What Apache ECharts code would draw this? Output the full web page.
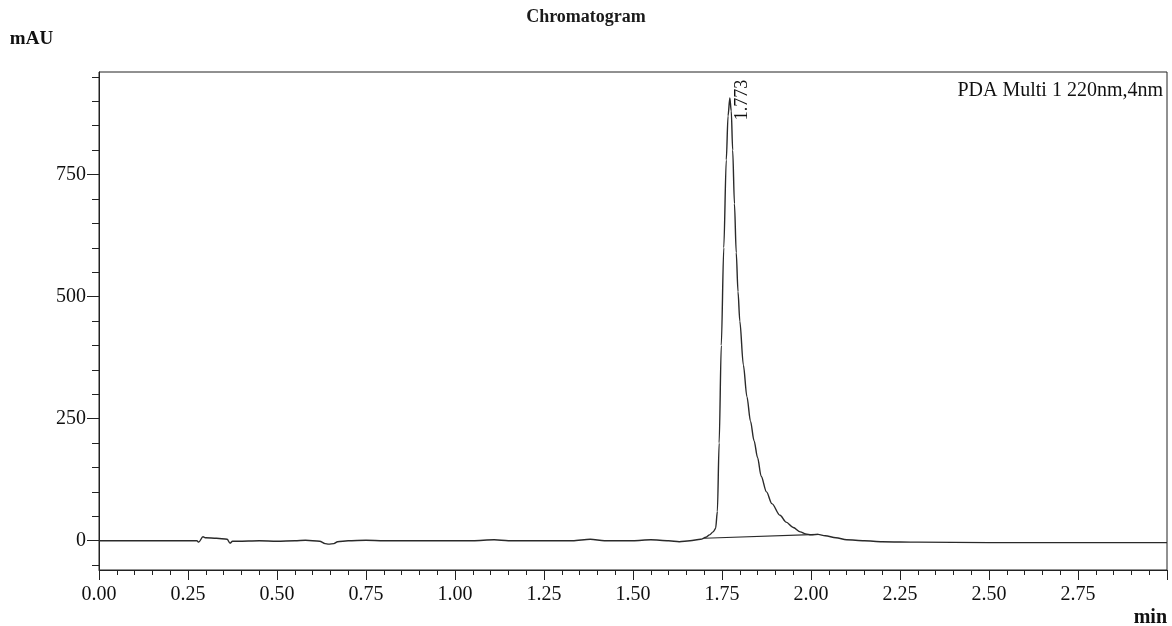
<!DOCTYPE html>
<html>
<head>
<meta charset="utf-8">
<script src="https://cdn.jsdelivr.net/npm/echarts@6/dist/echarts.min.js"></script>
<style>
html,body{margin:0;padding:0;background:#fff;}
#chart{width:1172px;height:626px;}
</style>
</head>
<body>
<div id="chart"></div>
<script>
// Retention time (min)
const times = [
  0.00, 0.10, 0.20, 0.26, 0.275, 0.280, 0.292, 0.30, 0.33, 0.36, 0.368, 0.375, 0.39,
  0.45, 0.50, 0.55, 0.58, 0.62, 0.635, 0.645, 0.66, 0.67, 0.70, 0.75, 0.80, 0.90,
  1.00, 1.05, 1.11, 1.15, 1.25, 1.33, 1.38, 1.42, 1.50, 1.55, 1.60, 1.63, 1.66,
  1.69, 1.705, 1.715, 1.725, 1.732, 1.737, 1.742, 1.748, 1.755, 1.762, 1.767,
  1.772, 1.776, 1.780, 1.785, 1.790, 1.795, 1.800, 1.810, 1.820, 1.830, 1.840,
  1.850, 1.860, 1.875, 1.890, 1.913, 1.930, 1.950, 1.970, 1.985, 2.000, 2.020,
  2.040, 2.070, 2.100, 2.150, 2.200, 2.300, 2.500, 2.800, 3.000
];
// Absorbance (mAU)
const absorbance = [
  0, 0, 0, 0, 0, -3, 8, 6, 5, 3, -5, -1, -1,
  0, -1, 0, 1, -1, -6, -7, -6, -2, 0, 1, 0, 0,
  0, 0, 2, 0, 0, 0, 3, 0, 0, 2, 0, -2, 0,
  3, 7, 12, 18, 25, 60, 200, 400, 600, 780, 870,
  907, 880, 800, 690, 590, 510, 450, 360, 295, 245, 205,
  170, 132, 100, 76, 52, 38, 27, 18, 14, 12, 13,
  10, 6, 2, 0, -2, -3, -4, -4, -4
];
// Integration baseline of the peak
const baselineTimes = [1.700, 2.020];
const baselineValues = [5, 13];
// Peak annotation
const peakTime = 1.772;
const peakHeight = 907;
const peakLabel = '1.773';
// Axis ticks
const xLabels = [0.00, 0.25, 0.50, 0.75, 1.00, 1.25, 1.50, 1.75, 2.00, 2.25, 2.50, 2.75];
const yLabels = [0, 250, 500, 750];
const yMinorTicks = [-50, 0, 50, 100, 150, 200, 250, 300, 350, 400, 450, 500, 550, 600, 650, 700, 750, 800, 850, 900, 950];

const signal = times.map((t, i) => [t, absorbance[i]]);
const baseline = baselineTimes.map((t, i) => [t, baselineValues[i]]);

const FONT = '"Liberation Serif", "DejaVu Serif", serif';
const chart = echarts.init(document.getElementById('chart'), null, {renderer: 'canvas'});
chart.setOption({
  animation: false,
  backgroundColor: '#ffffff',
  title: [
    {text: 'Chromatogram', left: 'center', top: 3,
     textStyle: {fontFamily: FONT, fontSize: 18, fontWeight: 'bold', color: '#1a1a1a'}},
    {text: 'PDA Multi 1 220nm,4nm', right: 4, top: 76,
     textStyle: {fontFamily: FONT, fontSize: 20, fontWeight: 'normal', color: '#111'}}
  ],
  grid: {left: 99, right: 5, top: 72, bottom: 56, containLabel: false, outerBoundsMode: 'none',
         show: true, borderColor: '#222', borderWidth: 1, backgroundColor: 'transparent'},
  xAxis: {
    type: 'value', min: 0, max: 3.0, interval: 0.25,
    name: 'min', nameLocation: 'end', nameGap: 0,
    nameTextStyle: {fontFamily: FONT, fontSize: 20, fontWeight: 'bold', color: '#111', align: 'right', verticalAlign: 'top', padding: [38, 0, 0, 0]},
    axisLine: {show: true, onZero: false, lineStyle: {color: '#222', width: 1}},
    axisTick: {show: true, inside: false, length: 10, lineStyle: {color: '#222'}},
    minorTick: {show: true, splitNumber: 5, length: 5, lineStyle: {color: '#222'}},
    splitLine: {show: false},
    axisLabel: {
      fontFamily: FONT, fontSize: 20, color: '#111', margin: 15,
      customValues: xLabels,
      formatter: v => v.toFixed(2)
    }
  },
  yAxis: [
    {
      type: 'value', min: -60, max: 960,
      name: 'mAU', nameLocation: 'end', nameGap: 23,
      nameTextStyle: {fontFamily: FONT, fontSize: 19, fontWeight: 'bold', color: '#111', align: 'center', padding: [0, 135, 0, 0]},
      axisLine: {show: true, onZero: false, lineStyle: {color: '#222', width: 1}},
      axisTick: {show: true, length: 12, customValues: yLabels, lineStyle: {color: '#222'}},
      splitLine: {show: false},
      axisLabel: {fontFamily: FONT, fontSize: 20, color: '#111', margin: 13, customValues: yLabels}
    },
    {
      type: 'value', min: -60, max: 960, position: 'left',
      axisLine: {show: false},
      axisTick: {show: true, length: 7, customValues: yMinorTicks, lineStyle: {color: '#222'}},
      axisLabel: {show: false},
      splitLine: {show: false}
    }
  ],
  series: [
    {
      type: 'line', data: signal, showSymbol: false, smooth: 0.3, smoothMonotone: 'x',
      lineStyle: {color: '#2a2a2a', width: 1.4},
      markPoint: {
        symbol: 'circle', symbolSize: 0,
        data: [{coord: [peakTime, peakHeight], value: peakLabel}],
        label: {show: true, formatter: peakLabel, rotate: 90, position: 'inside',
                align: 'center', verticalAlign: 'middle', offset: [-2, 12],
                fontFamily: FONT, fontSize: 18, color: '#111'}
      }
    },
    {
      type: 'line', data: baseline, showSymbol: false,
      lineStyle: {color: '#2a2a2a', width: 1.2}
    }
  ]
});
</script>
</body>
</html>
